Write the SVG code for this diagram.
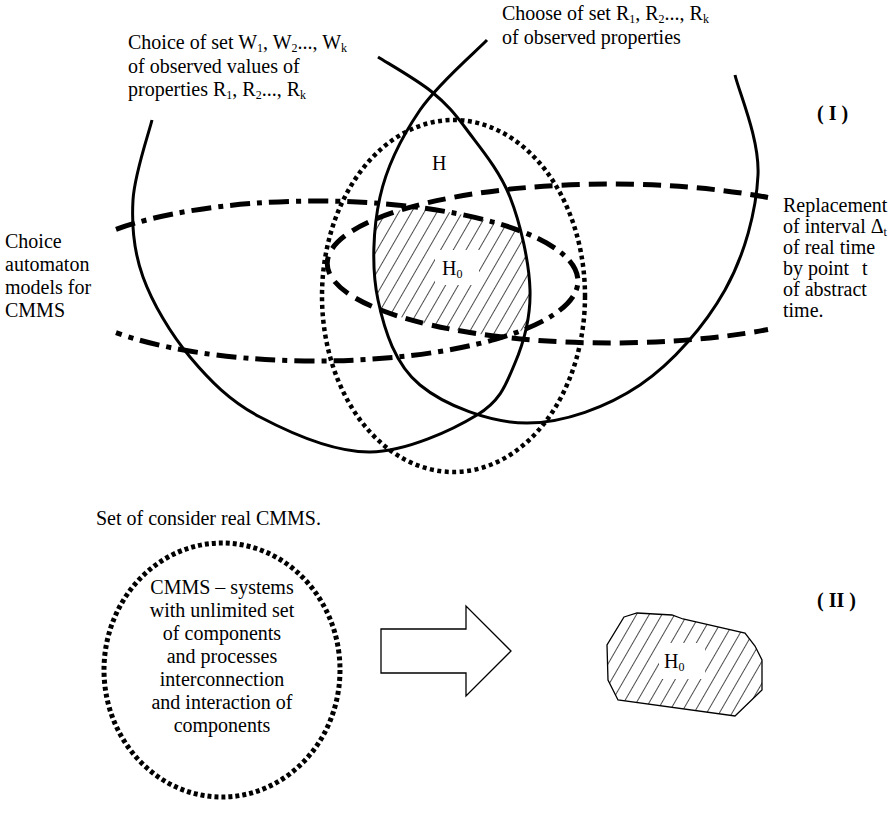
<svg xmlns="http://www.w3.org/2000/svg" width="896" height="818" viewBox="0 0 896 818">
<style>
text{font-family:"Liberation Serif","Times New Roman",serif;font-size:20px;fill:#000}
.sub{font-size:12px}
.bold{font-weight:bold}
.solid{fill:none;stroke:#000;stroke-width:3}
.dotted{fill:none;stroke:#000;stroke-width:4.5;stroke-dasharray:4 3.5}
.dotted2{fill:none;stroke:#000;stroke-width:5;stroke-dasharray:4 3}
.dashed{fill:none;stroke:#000;stroke-width:5;stroke-dasharray:18 9}
.dashdot{fill:none;stroke:#000;stroke-width:5;stroke-dasharray:20 7 5 7}
.thin{fill:#fff;stroke:#000;stroke-width:1.3}
.hatch{stroke:#000;stroke-width:1.4}
</style>
<defs>
<pattern id="hatch" width="11" height="11" patternUnits="userSpaceOnUse" patternTransform="rotate(30)">
<line class="hatch" x1="0" y1="-1" x2="0" y2="12"/>
</pattern>
<clipPath id="cDD"><ellipse cx="316" cy="281" rx="262" ry="80"/></clipPath>
<clipPath id="cDA"><ellipse cx="610" cy="263.5" rx="283" ry="79.5"/></clipPath>
<clipPath id="cA"><path d="M152,120 C148.8,133.3 134.5,173.8 133,200 C131.5,226.2 133.5,250.8 143,277 C152.5,303.2 170.5,333.7 190,357 C209.5,380.3 230,401.2 260,417 C290,432.8 333.8,452.3 370,452 C406.2,451.7 452.8,429.8 477,415 C501.2,400.2 506.2,383.8 515,363 C523.8,342.2 530.8,317.7 530,290 C529.2,262.3 520.5,223.7 510,197 C499.5,170.3 480,147.5 467,130 C454,112.5 446.8,104.2 432,92 C417.2,79.8 387,62.8 378,57 Z"/></clipPath>
<clipPath id="cB"><path d="M487,40 C475.8,51.7 437.8,83.8 420,110 C402.2,136.2 387,165.3 380,197 C373,228.7 371.3,268.7 378,300 C384.7,331.3 395.2,364.5 420,385 C444.8,405.5 490.3,423 527,423 C563.7,423 607,407.2 640,385 C673,362.8 705.3,325 725,290 C744.7,255 756.3,210.8 758,175 C759.7,139.2 738.8,91.7 735,75 Z"/></clipPath>
<clipPath id="cH0b"><polygon points="624,617 637,613 672,615 683,619 745,633 755,646 762,660 762,690 735,716 618,700 608,680 607,645"/></clipPath>
</defs>

<g id="H0-region">
<g clip-path="url(#cDD)"><g clip-path="url(#cDA)"><g clip-path="url(#cA)">
<rect x="360" y="180" width="190" height="180" fill="url(#hatch)" clip-path="url(#cB)"/>
</g></g></g>
<rect x="435" y="250" width="44" height="35" fill="#fff"/>
</g>

<g id="connectors">
<path id="arcW" class="solid" d="M152,120 C148.8,133.3 134.5,173.8 133,200 C131.5,226.2 133.5,250.8 143,277 C152.5,303.2 170.5,333.7 190,357 C209.5,380.3 230,401.2 260,417 C290,432.8 333.8,452.3 370,452 C406.2,451.7 452.8,429.8 477,415 C501.2,400.2 506.2,383.8 515,363 C523.8,342.2 530.8,317.7 530,290 C529.2,262.3 520.5,223.7 510,197 C499.5,170.3 480,147.5 467,130 C454,112.5 446.8,104.2 432,92 C417.2,79.8 387,62.8 378,57"/>
<path id="arcR" class="solid" d="M487,40 C475.8,51.7 437.8,83.8 420,110 C402.2,136.2 387,165.3 380,197 C373,228.7 371.3,268.7 378,300 C384.7,331.3 395.2,364.5 420,385 C444.8,405.5 490.3,423 527,423 C563.7,423 607,407.2 640,385 C673,362.8 705.3,325 725,290 C744.7,255 756.3,210.8 758,175 C759.7,139.2 738.8,91.7 735,75"/>
<ellipse id="setH" class="dotted" cx="453.5" cy="296" rx="131.5" ry="176"/>
<path id="automaton" class="dashdot" d="M116,229.3 A262,80 0 1 1 116,332.7"/>
<path id="time" class="dashed" d="M768,197.5 A283,79.5 0 1 0 768,329.5"/>
</g>

<g id="labels-top">
<text x="502" y="20">Choose of set R<tspan class="sub" dy="3">1</tspan><tspan dy="-3">, R</tspan><tspan class="sub" dy="3">2</tspan><tspan dy="-3">..., R</tspan><tspan class="sub" dy="3">k</tspan></text>
<text x="502" y="44">of observed properties</text>
<text x="128" y="49">Choice of set W<tspan class="sub" dy="3">1</tspan><tspan dy="-3">, W</tspan><tspan class="sub" dy="3">2</tspan><tspan dy="-3">..., W</tspan><tspan class="sub" dy="3">k</tspan></text>
<text x="128" y="73">of observed values of</text>
<text x="128" y="96">properties R<tspan class="sub" dy="3">1</tspan><tspan dy="-3">, R</tspan><tspan class="sub" dy="3">2</tspan><tspan dy="-3">..., R</tspan><tspan class="sub" dy="3">k</tspan></text>
<text class="bold" x="817" y="120">( I )</text>
<text x="432" y="170">H</text>
<text x="442" y="275">H<tspan class="sub" dy="3">0</tspan></text>
<text x="5" y="248">Choice</text>
<text x="5" y="271">automaton</text>
<text x="5" y="294">models for</text>
<text x="5" y="317">CMMS</text>
<text x="783" y="212">Replacement</text>
<text x="783" y="233">of interval Δ<tspan class="sub" dy="3">t</tspan></text>
<text x="783" y="254">of real time</text>
<text x="783" y="275">by</text>
<text x="808" y="275">point</text>
<text x="862" y="275">t</text>
<text x="783" y="296">of abstract</text>
<text x="783" y="317">time.</text>
</g>

<g id="set-cmms">
<text x="96" y="525">Set of consider real CMMS.</text>
<ellipse class="dotted2" cx="222" cy="670" rx="118" ry="127"/>
<g text-anchor="middle">
<text x="222" y="594">CMMS – systems</text>
<text x="222" y="617">with unlimited set</text>
<text x="222" y="640">of components</text>
<text x="222" y="663">and processes</text>
<text x="222" y="686">interconnection</text>
<text x="222" y="709">and interaction of</text>
<text x="222" y="732">components</text>
</g>
</g>

<g id="arrow">
<polygon class="thin" points="381,629 466,629 466,606 511,651 466,696 466,673 381,673"/>
</g>

<g id="H0-result">
<rect x="600" y="605" width="170" height="115" fill="url(#hatch)" clip-path="url(#cH0b)"/>
<polygon points="624,617 637,613 672,615 683,619 745,633 755,646 762,660 762,690 735,716 618,700 608,680 607,645" fill="none" stroke="#000" stroke-width="1.3"/>
<rect x="659" y="643" width="46" height="36" fill="#fff"/>
<text x="664" y="668">H<tspan class="sub" dy="3">0</tspan></text>
</g>
<text class="bold" x="817" y="607">( II )</text>
</svg>
